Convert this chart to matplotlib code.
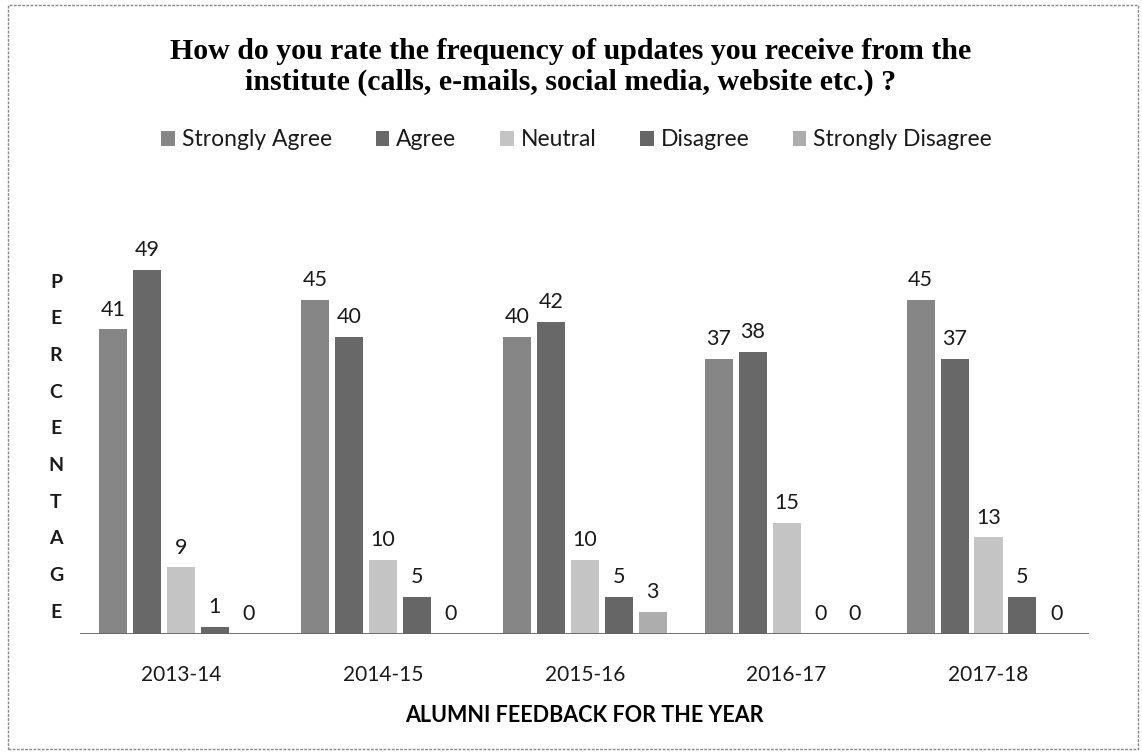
import matplotlib
matplotlib.use("Agg")
import matplotlib.pyplot as plt
import numpy as np
from matplotlib.patches import Rectangle

years = ["2013-14", "2014-15", "2015-16", "2016-17", "2017-18"]
series_names = ["Strongly Agree", "Agree", "Neutral", "Disagree", "Strongly Disagree"]
strongly_agree = [41, 45, 40, 37, 45]
agree = [49, 40, 42, 38, 37]
neutral = [9, 10, 10, 15, 13]
disagree = [1, 5, 5, 0, 5]
strongly_disagree = [0, 0, 3, 0, 0]
series_values = [strongly_agree, agree, neutral, disagree, strongly_disagree]
colors = ["#868686", "#686868", "#c4c4c4", "#666666", "#adadad"]

sans = ["Lato", "DejaVu Sans"]

fig = plt.figure(figsize=(11.42, 7.53), dpi=100)
ax = fig.add_axes([0.070, 0.158, 0.884, 0.592])

x = np.arange(len(years))
pitch = 0.168
width = 0.139
for i, (name, vals, c) in enumerate(zip(series_names, series_values, colors)):
    pos = x + (i - 2) * pitch
    ax.bar(pos, vals, width=width, color=c, label=name, edgecolor="none")
    for xp, v in zip(pos, vals):
        ax.text(xp, v + 1.3, str(v), ha="center", va="bottom", fontsize=15.5,
                family=sans, color="#1a1a1a")

ax.set_xlim(-0.5, len(years) - 0.5)
ax.set_ylim(0, 60)
ax.axhline(0, color="#666666", lw=1.3)
for s in ax.spines.values():
    s.set_visible(False)
ax.set_yticks([])
ax.set_xticks(x)
ax.set_xticklabels(years, family=sans, fontsize=15, color="#1a1a1a")
ax.tick_params(axis="x", length=0, pad=22)

ax.set_xlabel("ALUMNI FEEDBACK FOR THE YEAR", family=sans, fontsize=15.5,
              fontweight="bold", labelpad=15)

# vertical stacked y label
letters = "PERCENTAGE"
y0, y1 = 282, 612
for k, ch in enumerate(letters):
    yy = y0 + k * (y1 - y0) / (len(letters) - 1)
    fig.text(56 / 1142, 1 - yy / 753, ch, ha="center", va="center",
             family=sans, fontsize=14, fontweight="bold", color="#1a1a1a")

fig.text(0.5, 1 - 67 / 753,
         "How do you rate the frequency of updates you receive from the\ninstitute (calls, e-mails, social media, website etc.) ?",
         ha="center", va="center", family=["Liberation Serif", "DejaVu Serif"],
         fontsize=21.5, fontweight="bold", linespacing=1.2)

leg = fig.legend(loc="center", bbox_to_anchor=(0.505, 1 - 140 / 753), ncol=5,
                 frameon=False, prop={"family": sans, "size": 16.5},
                 handlelength=0.6, handleheight=0.6, handletextpad=0.3,
                 columnspacing=1.9)
for t in leg.get_texts():
    t.set_color("#1a1a1a")

fig.patches.append(Rectangle((8 / 1142, 0.005), 1 - 12 / 1142, 1 - 5 / 753 - 0.005,
                             transform=fig.transFigure, fill=False,
                             edgecolor="#888888", lw=1, ls=(0, (2, 1))))

fig.savefig("out.png", dpi=100, facecolor="white")
